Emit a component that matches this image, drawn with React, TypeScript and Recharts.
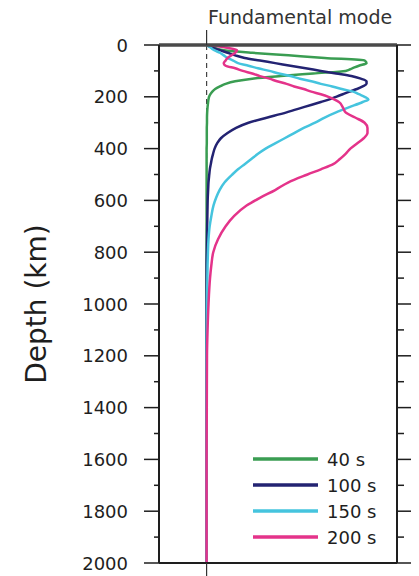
import React from "react";
import {
  LineChart,
  Line,
  XAxis,
  YAxis,
  ReferenceLine,
  Legend,
} from "recharts";

// depth samples (km) shared by all kernels
const depthKm = [
  0, 10, 20, 30, 40, 50, 60, 70, 80, 90, 100, 110, 120, 130, 140, 150, 160, 170, 180, 190, 200, 210, 220,
  240, 260, 280, 300, 320, 340, 360, 380, 400, 420, 440, 460, 480, 500,
  530, 560, 590, 620, 660, 700, 750, 800, 850, 900, 1000, 1100, 1200, 1400, 1600, 1800, 2000,
];

// normalized sensitivity kernels, fundamental mode
const kernel40s = [
  0, 0.04, 0.09, 0.24, 0.43, 0.62, 0.83, 0.84, 0.8, 0.765, 0.73, 0.56, 0.39, 0.24, 0.15, 0.1, 0.07, 0.045, 0.03, 0.02, 0.013, 0.01, 0.008,
  0.005, 0.003, 0.002, 0.002, 0.001, 0.001, 0.001, 0.001, 0, 0, 0, 0, 0, 0,
  0, 0, 0, 0, 0, 0, 0, 0, 0, 0, 0, 0, 0, 0, 0, 0, 0,
];
const kernel100s = [
  0, 0.03, 0.07, 0.11, 0.15, 0.2, 0.28, 0.36, 0.44, 0.52, 0.6, 0.68, 0.76, 0.81, 0.84, 0.84, 0.82, 0.79, 0.75, 0.715, 0.68, 0.645, 0.6,
  0.51, 0.42, 0.32, 0.22, 0.155, 0.11, 0.075, 0.055, 0.042, 0.034, 0.027, 0.022, 0.017, 0.014,
  0.01, 0.008, 0.006, 0.005, 0.004, 0.003, 0.002, 0.001, 0, 0, 0, 0, 0, 0, 0, 0, 0,
];
const kernel150s = [
  0, 0.02, 0.04, 0.07, 0.09, 0.11, 0.14, 0.165, 0.22, 0.27, 0.33, 0.38, 0.44, 0.49, 0.55, 0.6, 0.66, 0.71, 0.77, 0.8, 0.83, 0.85, 0.82,
  0.75, 0.68, 0.62, 0.57, 0.51, 0.46, 0.41, 0.36, 0.31, 0.27, 0.235, 0.2, 0.165, 0.135,
  0.095, 0.068, 0.05, 0.036, 0.025, 0.016, 0.01, 0.007, 0.005, 0.004, 0.002, 0.001, 0, 0, 0, 0, 0,
];
const kernel200s = [
  0.02, 0.1, 0.16, 0.15, 0.13, 0.11, 0.1, 0.09, 0.1, 0.15, 0.19, 0.24, 0.28, 0.33, 0.37, 0.42, 0.46, 0.51, 0.55, 0.6, 0.64, 0.67, 0.695,
  0.715, 0.73, 0.78, 0.83, 0.845, 0.845, 0.825, 0.79, 0.755, 0.73, 0.7, 0.665, 0.6, 0.53,
  0.43, 0.36, 0.28, 0.21, 0.145, 0.1, 0.06, 0.035, 0.025, 0.018, 0.01, 0.005, 0.002, 0.001, 0, 0, 0,
];

const depthTicks = [
  0, 100, 200, 300, 400, 500, 600, 700, 800, 900, 1000, 1100, 1200, 1300, 1400, 1500, 1600, 1700, 1800, 1900, 2000,
];

const series = [
  { key: "k40", name: "40 s", color: "#3a9d52" },
  { key: "k100", name: "100 s", color: "#232372" },
  { key: "k150", name: "150 s", color: "#45c4de" },
  { key: "k200", name: "200 s", color: "#e4338a" },
];

const data = depthKm.map((depth, i) => ({
  depth,
  k40: kernel40s[i],
  k100: kernel100s[i],
  k150: kernel150s[i],
  k200: kernel200s[i],
}));

const FONT = "DejaVu Sans";
const INK = "#1e1e1e";

const isMajor = (v: number) => v % 200 === 0;

const LeftTick = (props: any) => {
  const { x, y, payload } = props;
  const major = isMajor(payload.value);
  return (
    <g>
      <line x1={x - (major ? 15 : 5)} x2={x} y1={y} y2={y} stroke={INK} strokeWidth={1.5} />
      {major && (
        <text x={x - 31} y={y} dy={6.5} textAnchor="end" fontSize={18} fontFamily={FONT} fill={INK}>
          {payload.value}
        </text>
      )}
    </g>
  );
};

const RightTick = (props: any) => {
  const { x, y, payload } = props;
  return <line x1={x} x2={x + (isMajor(payload.value) ? 20 : 7)} y1={y} y2={y} stroke={INK} strokeWidth={1.5} />;
};

const NeighbourTick = (props: any) => {
  const { x, y, payload } = props;
  if (isMajor(payload.value)) return <g />;
  return <line x1={x - 5} x2={x} y1={y} y2={y} stroke={INK} strokeWidth={1.5} />;
};

// zero mark sticking out above / below the frame
const ZeroTickUp = (props: any) => (
  <line x1={props.x} x2={props.x} y1={props.y - 15} y2={props.y} stroke="#333" strokeWidth={1.2} />
);
const ZeroTickDown = (props: any) => (
  <line x1={props.x} x2={props.x} y1={props.y} y2={props.y + 14} stroke="#333" strokeWidth={1.2} />
);

const TitleLabel = (props: any) => {
  const { viewBox } = props;
  return (
    <text x={viewBox.x + 49} y={viewBox.y + 16} fontSize={19} fontFamily={FONT} fill="#333">
      Fundamental mode
    </text>
  );
};

const DepthLabel = (props: any) => {
  const { viewBox } = props;
  const cx = viewBox.x + 28;
  const cy = viewBox.y + viewBox.height / 2;
  return (
    <text
      x={cx}
      y={cy}
      transform={`rotate(-90 ${cx} ${cy})`}
      textAnchor="middle"
      dominantBaseline="central"
      fontSize={28}
      fontFamily={FONT}
      fill={INK}>
      Depth (km)
    </text>
  );
};

const PeriodLegend = ({ payload }: any) => {
  const order = series.map((s) => s.name);
  const items = [...(payload ?? [])].sort((a: any, b: any) => order.indexOf(a.value) - order.indexOf(b.value));
  return (
    <svg width={140} height={110} style={{ display: "block" }}>
      {items.map((entry: any, i: number) => (
        <g key={entry.value}>
          <line x1={3} x2={68} y1={14 + i * 26} y2={14 + i * 26} stroke={entry.color} strokeWidth={3.5} />
          <text x={77} y={14 + i * 26 + 6.5} fontSize={18} fontFamily={FONT} fill={INK}>
            {entry.value}
          </text>
        </g>
      ))}
    </svg>
  );
};

export default function App() {
  return (
    <div style={{ width: 411, height: 568 }}>
      <LineChart
        width={411}
        height={568}
        data={data}
        layout="vertical"
        margin={{ top: 0, right: 0, bottom: 0, left: 0 }}>
        <XAxis
          type="number"
          domain={[-0.25, 1]}
          allowDataOverflow
          ticks={[0]}
          tick={<ZeroTickDown />}
          tickLine={false}
          tickSize={0}
          tickMargin={0}
          axisLine={{ stroke: INK, strokeWidth: 2 }}
          height={13}
        />
        <XAxis
          xAxisId="top"
          orientation="top"
          type="number"
          domain={[-0.25, 1]}
          allowDataOverflow
          ticks={[0]}
          tick={<ZeroTickUp />}
          tickLine={false}
          tickSize={0}
          tickMargin={0}
          axisLine={{ stroke: "#4a4a4a", strokeWidth: 3.5 }}
          height={37}
          label={(p: any) => <TitleLabel {...p} />}
        />
        <YAxis
          type="number"
          dataKey="depth"
          domain={[0, 2000]}
          allowDataOverflow
          ticks={depthTicks}
          interval={0}
          tick={<LeftTick />}
          tickLine={false}
          tickSize={0}
          tickMargin={0}
          axisLine={{ stroke: INK, strokeWidth: 2 }}
          width={151}
          label={(p: any) => <DepthLabel {...p} />}
        />
        <YAxis
          yAxisId="ra"
          orientation="right"
          type="number"
          dataKey="depth"
          domain={[0, 2000]}
          allowDataOverflow
          ticks={depthTicks}
          interval={0}
          tick={<RightTick />}
          tickLine={false}
          tickSize={0}
          tickMargin={0}
          axisLine={{ stroke: INK, strokeWidth: 2 }}
          width={20}
        />
        <YAxis
          yAxisId="rb"
          orientation="right"
          type="number"
          dataKey="depth"
          domain={[0, 2000]}
          allowDataOverflow
          ticks={depthTicks}
          interval={0}
          tick={<NeighbourTick />}
          tickLine={false}
          tickSize={0}
          tickMargin={0}
          axisLine={{ stroke: INK, strokeWidth: 2 }}
          width={2}
        />
        <ReferenceLine x={0} stroke="#444" strokeWidth={1.2} strokeDasharray="5 4" />
        {series.map((s) => (
          <Line
            key={s.key}
            type="monotone"
            dataKey={s.key}
            name={s.name}
            stroke={s.color}
            strokeWidth={2.5}
            dot={false}
            isAnimationActive={false}
          />
        ))}
        <Legend
          layout="vertical"
          align="center"
          verticalAlign="middle"
          content={<PeriodLegend />}
          wrapperStyle={{ left: 242, top: 437, width: 140, height: 110 }}
        />
      </LineChart>
    </div>
  );
}
